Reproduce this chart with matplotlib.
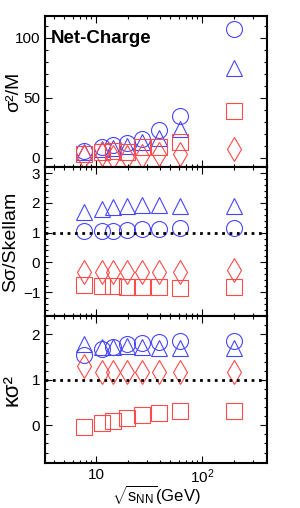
import matplotlib
matplotlib.use("Agg")
import matplotlib.pyplot as plt
import numpy as np
from matplotlib.ticker import MultipleLocator, FixedLocator, FixedFormatter, LogLocator, NullFormatter

plt.rcParams['font.family'] = ['Liberation Sans', 'DejaVu Sans']
plt.rcParams['mathtext.fontset'] = 'custom'
plt.rcParams['mathtext.rm'] = 'Liberation Sans'
plt.rcParams['mathtext.it'] = 'Liberation Sans:italic'

# collision energies (GeV)
energy = [7.7, 11.5, 14.5, 19.6, 27, 39, 62.4, 200]

# sigma^2/M
sm_circle = [5.6, 8.9, 10.3, 12.2, 15.8, 22.8, 34.7, 107.5]
sm_triangle = [4.7, 7.0, 8.0, 9.4, 13.0, 16.7, 24.0, 74.7]
sm_square = [3.3, 4.7, 5.6, 4.7, 8.9, 8.9, 13.0, 38.6]
sm_diamond = [0.5, 3.3, 0.6, 0.6, 1.0, 2.8, 2.8, 7.5]

# S sigma / Skellam
ss_circle = [1.06, 1.07, 1.07, 1.09, 1.11, 1.12, 1.17, 1.17]
ss_triangle = [1.70, 1.79, 1.86, 1.90, 1.92, 1.92, 1.89, 1.89]
ss_square = [-0.75, -0.79, -0.79, -0.82, -0.84, -0.84, -0.85, -0.81]
ss_diamond = [-0.33, -0.33, -0.33, -0.33, -0.33, -0.33, -0.33, -0.25]

# kappa sigma^2
ks_circle = [1.55, 1.68, 1.73, 1.79, 1.81, 1.83, 1.85, 1.85]
ks_triangle = [1.79, 1.73, 1.72, 1.74, 1.73, 1.70, 1.69, 1.69]
ks_square = [-0.04, 0.04, 0.09, 0.15, 0.22, 0.26, 0.31, 0.32]
ks_diamond = [1.30, 1.18, 1.18, 1.18, 1.18, 1.18, 1.18, 1.18]

blue = '#4646ff'
red = '#ff4a4a'

fig = plt.figure(figsize=(3.0, 5.08), dpi=100)
ax1 = fig.add_axes([0.15, 0.671, 0.74, 0.297])
ax2 = fig.add_axes([0.15, 0.378, 0.74, 0.293])
ax3 = fig.add_axes([0.15, 0.0886, 0.74, 0.289])

panels = [
    (ax1, sm_circle, sm_triangle, sm_square, sm_diamond, (-8, 118), 'σ²/M', 50, 10, 14),
    (ax2, ss_circle, ss_triangle, ss_square, ss_diamond, (-1.8, 3.2), 'Sσ/Skellam', 1, 0.2, 14),
    (ax3, ks_circle, ks_triangle, ks_square, ks_diamond, (-0.83, 2.4), 'κσ²', 1, 0.2, 16),
]

for ax, c, t, s, d, ylim, ylabel, major, minor, lsize in panels:
    kw = dict(linestyle='none', markerfacecolor='none', markeredgewidth=0.8)
    ax.plot(energy, c, marker='o', markersize=11.5, color=blue, **kw)
    ax.plot(energy, t, marker='^', markersize=12, color=blue, **kw)
    ax.plot(energy, s, marker='s', markersize=11, color=red, **kw)
    ax.plot(energy, d, marker='d', markersize=12, color=red, **kw)
    if ax is not ax1:
        ax.axhline(1, color='black', linestyle=':', linewidth=2)
    ax.set_xscale('log')
    ax.set_xlim(3.3, 410)
    ax.set_ylim(*ylim)
    ax.set_ylabel(ylabel, fontsize=lsize)
    ax.yaxis.set_major_locator(MultipleLocator(major))
    ax.yaxis.set_minor_locator(MultipleLocator(minor))
    ax.xaxis.set_major_locator(FixedLocator([10, 100]))
    ax.xaxis.set_minor_locator(LogLocator(base=10, subs=np.arange(2, 10)))
    ax.xaxis.set_minor_formatter(NullFormatter())
    ax.tick_params(which='both', direction='in', top=True, right=True, labelsize=11, width=0.8)
    ax.tick_params(which='major', length=5)
    ax.tick_params(which='minor', length=2.5)
    for sp in ax.spines.values():
        sp.set_linewidth(1.5)
    if ax is not ax3:
        ax.tick_params(labelbottom=False)

ax1.yaxis.set_label_coords(-0.105, 0.5)
ax2.yaxis.set_label_coords(-0.115, 0.5)
ax3.yaxis.set_label_coords(-0.1, 0.5)

ax3.xaxis.set_major_formatter(FixedFormatter(['10', '$10^2$']))
ax3.set_xlabel(r'$\sqrt{\mathrm{s}_{\mathrm{NN}}}$(GeV)', fontsize=12)
ax3.xaxis.set_label_coords(0.5, -0.14)

ax1.text(0.025, 0.91, 'Net-Charge', transform=ax1.transAxes, fontsize=13.5,
         fontweight='bold', va='top', ha='left')

fig.savefig('out.png', dpi=100)
